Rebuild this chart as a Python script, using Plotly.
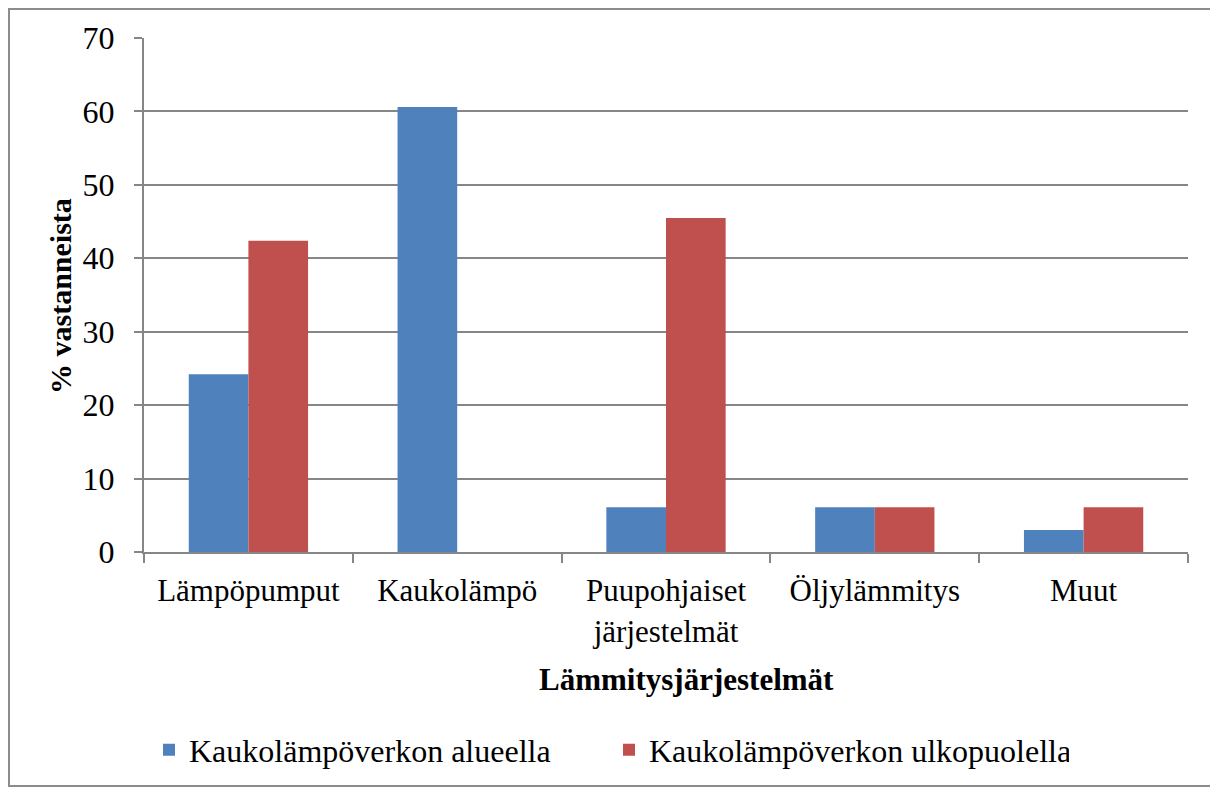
import plotly.graph_objects as go

categories = ["Lämpöpumput", "Kaukolämpö", "Puupohjaiset<br>järjestelmät", "Öljylämmitys", "Muut"]
inside_network = [24.2, 60.6, 6.1, 6.1, 3.0]
outside_network = [42.4, 0.0, 45.5, 6.1, 6.1]
series_names = ["Kaukolämpöverkon alueella", "Kaukolämpöverkon ulkopuolella"]

# page has an 8px body margin, so the figure is laid out in page px minus 8
W, H = 1210, 780
L, T = 136, 30
pw, ph = 1044, 514
R, B = W - L - pw, H - T - ph


def px_x(p):
    return (p - L) / pw


def px_y(p):
    return (T + ph - p) / ph


font = "Liberation Serif, Times New Roman, serif"
grid = "#868686"

fig = go.Figure()
fig.add_bar(x=categories, y=inside_network, name=series_names[0],
            marker=dict(color="#4F81BD", line=dict(width=0)))
fig.add_bar(x=categories, y=outside_network, name=series_names[1],
            marker=dict(color="#C0504D", line=dict(width=0)))

# outer chart border
fig.add_shape(type="rect", xref="paper", yref="paper",
              x0=px_x(1), x1=px_x(1204), y0=px_y(778), y1=px_y(1),
              line=dict(color="#8c8c8c", width=2), layer="below")

fig.add_annotation(text="<b>Lämmitysjärjestelmät</b>", xref="paper", yref="paper",
                   x=px_x(678), y=px_y(671), xanchor="center", yanchor="middle",
                   showarrow=False, font=dict(size=31))
fig.add_annotation(text="<b>% vastanneista</b>", xref="paper", yref="paper",
                   x=px_x(52), y=px_y(288), xanchor="center", yanchor="middle",
                   textangle=-90, showarrow=False, font=dict(size=30))

fig.update_layout(
    width=W, height=H,
    margin=dict(l=L, r=R, t=T, b=B, autoexpand=False),
    paper_bgcolor="white", plot_bgcolor="white",
    barmode="group", bargap=0.4286, bargroupgap=0,
    font=dict(family=font, size=31, color="black"),
    showlegend=True,
    legend=dict(orientation="h", x=px_x(601), xanchor="center", y=px_y(742), yanchor="middle",
                font=dict(size=32), entrywidth=415, traceorder="normal"),
    xaxis=dict(
        showline=True, linecolor=grid, linewidth=2,
        ticks="outside", tickson="boundaries", ticklen=9, tickcolor=grid, tickwidth=2,
        ticklabelstandoff=10, showgrid=False,
    ),
    yaxis=dict(
        range=[0, 70], dtick=10, showline=True, linecolor=grid, linewidth=2,
        ticks="outside", ticklen=8, tickcolor=grid, tickwidth=2, ticklabelstandoff=13,
        tickfont=dict(size=32),
        showgrid=True, gridcolor=grid, gridwidth=2, zeroline=False,
    ),
)

fig.write_html("out.html")
